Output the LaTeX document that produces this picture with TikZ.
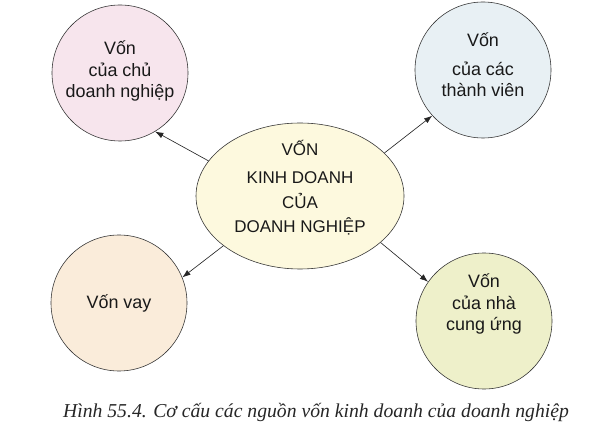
\documentclass[tikz,border=0pt]{standalone}
\usepackage{fontspec}
\setmainfont{Liberation Sans}
\newfontfamily\captionfont{Liberation Serif}
\usepackage{tikz}
\usetikzlibrary{shapes.geometric,arrows.meta}

\begin{document}
\begin{tikzpicture}[x=0.03cm,y=-0.03cm,
        source/.style={circle,draw=black!80,line width=0.5pt,minimum size=4.08cm,inner sep=0pt},
        srctext/.style={align=center,font=\fontsize{15.3}{18.5}\selectfont,text=black!90},
        flow/.style={-{Latex[length=7pt,width=5pt]},line width=0.55pt,black!85}]
        \useasboundingbox (0,0) rectangle (595,433);
        \node[ellipse,draw=black!80,line width=0.5pt,fill={rgb,255:red,253;green,249;blue,222},
              minimum width=6.24cm,minimum height=4.38cm,inner sep=0pt] (main) at (300,196) {};
        \node[srctext,font=\fontsize{14.5}{21}\selectfont] (maintext) at (300,188) {VỐN\\[3pt]KINH DOANH\\CỦA\\DOANH NGHIỆP};
        \node[source,fill={rgb,255:red,247;green,229;blue,237}] (owner) at (120,73) {};
        \node[source,fill={rgb,255:red,232;green,240;blue,244}] (member) at (483,70) {};
        \node[source,fill={rgb,255:red,250;green,236;blue,218}] (loan) at (119,303) {};
        \node[source,fill={rgb,255:red,238;green,240;blue,202}] (supplier) at (484,321) {};
        \node[srctext] (ownertext) at (120,71) {Vốn\\của chủ\\doanh nghiệp};
        \node[srctext] (membertext) at (483,65) {Vốn\\[6pt]của các\\thành viên};
        \node[srctext] (loantext) at (119,303) {Vốn vay};
        \node[srctext] (suppliertext) at (484,304) {Vốn\\của nhà\\cung ứng};
        \draw[flow] (main.159) -- (owner.-59);
        \draw[flow] (main.27) -- (member.222);
        \draw[flow] (main.213) -- (loan.22);
        \draw[flow] (main.-30) -- (supplier.145);
        \node[anchor=base,font=\captionfont\itshape\fontsize{16.8}{20}\selectfont,text=black!85] (caption) at (316,417)
              {Hình 55.4. Cơ cấu các nguồn vốn kinh doanh của doanh nghiệp};
\end{tikzpicture}
\end{document}
